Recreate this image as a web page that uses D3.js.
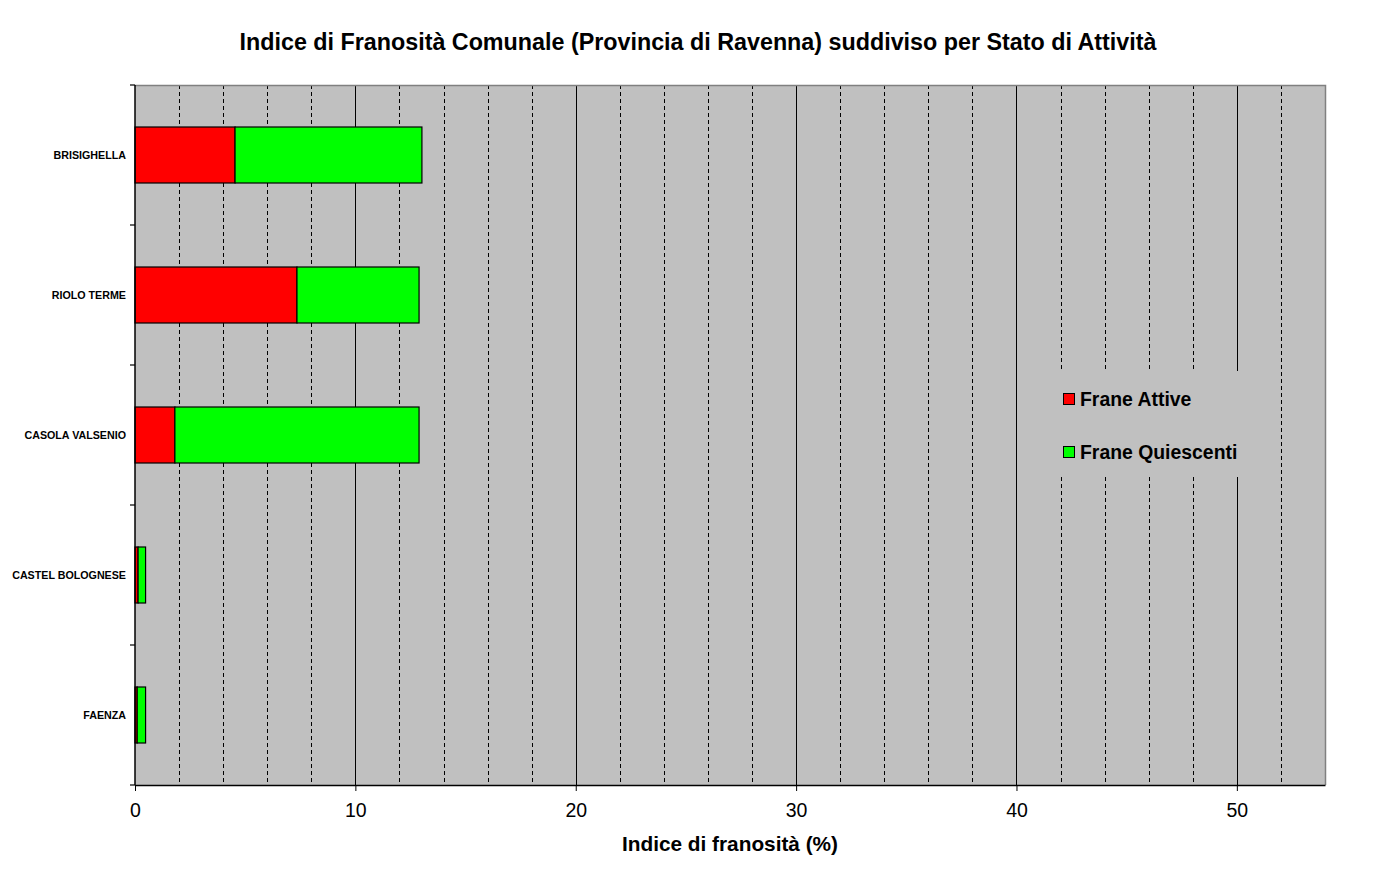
<!DOCTYPE html>
<html><head><meta charset="utf-8">
<script src="https://cdn.jsdelivr.net/npm/d3@7"></script>
<style>body{margin:0;background:#fff;}svg{display:block;font-family:"Liberation Sans",Arial,sans-serif;}</style>
</head><body><svg id="c" width="1396" height="872"></svg>
<script>
const categories = ["BRISIGHELLA","RIOLO TERME","CASOLA VALSENIO","CASTEL BOLOGNESE","FAENZA"];
const franeAttive = [4.54, 7.35, 1.81, 0.14, 0.10];
const franeQuiescenti = [8.48, 5.54, 11.08, 0.34, 0.38];
const seriesNames = ["Frane Attive","Frane Quiescenti"];
const seriesColors = ["#ff0000","#00ff00"];
const xTicks = [0,10,20,30,40,50];
const minorTicks = d3.range(2,54,2).filter(v=>v%10!==0);
const title = "Indice di Franosità Comunale (Provincia di Ravenna) suddiviso per Stato di Attività";
const xLabel = "Indice di franosità (%)";

const svg = d3.select("#c");
const L=135,R=1325,T=85,B=785;
const x = d3.scaleLinear().domain([0,54]).range([L,R]);
const y = d3.scaleBand().domain(categories).range([T,B]).paddingInner(0.6).paddingOuter(0.3);
const yb = d3.scaleBand().domain(categories).range([T,B]);

svg.append("rect").attr("x",L).attr("y",T).attr("width",R-L).attr("height",B-T).attr("fill","#c0c0c0");

// gridlines
svg.append("g").selectAll("line").data(minorTicks).join("line")
 .attr("x1",d=>Math.round(x(d))+0.5).attr("x2",d=>Math.round(x(d))+0.5).attr("y1",T).attr("y2",B)
 .attr("stroke","#000").attr("stroke-width",1).attr("stroke-dasharray","4,3");
svg.append("g").selectAll("line").data(xTicks.filter(d=>d>0)).join("line")
 .attr("x1",d=>Math.round(x(d))+0.5).attr("x2",d=>Math.round(x(d))+0.5).attr("y1",T).attr("y2",B)
 .attr("stroke","#000").attr("stroke-width",1);

// border top/right
svg.append("path").attr("d",`M${L},${T+0.5}H${R+0.5}V${B}`).attr("fill","none").attr("stroke","#808080").attr("stroke-width",1.5);

// bars
const stackData = categories.map((c,i)=>({c, a:franeAttive[i], q:franeQuiescenti[i]}));
const g = svg.append("g");
g.selectAll("rect.a").data(stackData).join("rect").attr("class","a")
 .attr("x",x(0)).attr("y",d=>y(d.c)).attr("width",d=>x(d.a)-x(0)).attr("height",y.bandwidth())
 .attr("fill",seriesColors[0]).attr("stroke","#000").attr("stroke-width",1.2);
g.selectAll("rect.q").data(stackData).join("rect").attr("class","q")
 .attr("x",d=>x(d.a)).attr("y",d=>y(d.c)).attr("width",d=>x(d.a+d.q)-x(d.a)).attr("height",y.bandwidth())
 .attr("fill",seriesColors[1]).attr("stroke","#000").attr("stroke-width",1.2);

// x axis
const xa = svg.append("g").attr("transform",`translate(0,${B})`)
 .call(d3.axisBottom(x).tickValues(xTicks).tickSize(6).tickPadding(12).tickSizeOuter(0));
xa.select(".domain").attr("stroke","#000").attr("stroke-width",1.5);
xa.selectAll("text").attr("font-size",19.5).attr("fill","#000").attr("font-family","Liberation Sans, Arial, sans-serif");
xa.selectAll(".tick line").attr("stroke","#000");

// y axis
svg.append("line").attr("x1",L).attr("x2",L).attr("y1",T).attr("y2",B).attr("stroke","#000").attr("stroke-width",1.5);
const yTickPos = [T, ...categories.map(c=>yb(c)+yb.bandwidth())];
svg.append("g").selectAll("line").data(yTickPos).join("line")
 .attr("x1",L-5).attr("x2",L).attr("y1",d=>d).attr("y2",d=>d).attr("stroke","#000").attr("stroke-width",1.2);
svg.append("g").selectAll("text").data(categories).join("text")
 .attr("x",126).attr("y",d=>y(d)+y.bandwidth()/2).attr("dy","0.35em").attr("text-anchor","end")
 .attr("font-size",10.7).attr("font-weight","bold").text(d=>d);

// title and label
svg.append("text").attr("x",698).attr("y",50).attr("text-anchor","middle").attr("font-size",23.3).attr("font-weight","bold").text(title);
svg.append("text").attr("x",730).attr("y",851).attr("text-anchor","middle").attr("font-size",20.8).attr("font-weight","bold").text(xLabel);

// legend
const lg = svg.append("g");
lg.append("rect").attr("x",1050).attr("y",371).attr("width",218).attr("height",106).attr("fill","#c0c0c0");
const legY = [399, 452];
seriesNames.forEach((n,i)=>{
  lg.append("rect").attr("x",1063.5).attr("y",legY[i]-5.5).attr("width",11).attr("height",11).attr("fill",seriesColors[i]).attr("stroke","#000").attr("stroke-width",1);
  lg.append("text").attr("x",1080).attr("y",legY[i]).attr("dy","0.35em").attr("font-size",19.4).attr("font-weight","bold").text(n);
});
</script></body></html>
